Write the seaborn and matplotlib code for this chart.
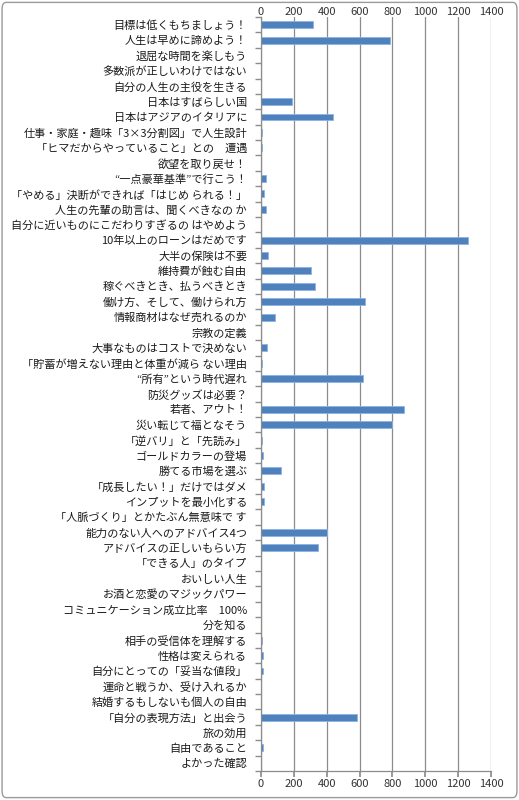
import matplotlib
matplotlib.use("Agg")
import matplotlib.pyplot as plt
import seaborn as sns
import pandas as pd
import numpy as np
from matplotlib.patches import FancyBboxPatch

categories = [
    "目標は低くもちましょう！",
    "人生は早めに諦めよう！",
    "退屈な時間を楽しもう",
    "多数派が正しいわけではない",
    "自分の人生の主役を生きる",
    "日本はすばらしい国",
    "日本はアジアのイタリアに",
    "仕事・家庭・趣味「3×3分割図」で人生設計",
    "「ヒマだからやっていること」との　遭遇",
    "欲望を取り戻せ！",
    "“一点豪華基準”で行こう！",
    "「やめる」決断ができれば「はじめ られる！」",
    "人生の先輩の助言は、聞くべきなの か",
    "自分に近いものにこだわりすぎるの はやめよう",
    "10年以上のローンはだめです",
    "大半の保険は不要",
    "維持費が蝕む自由",
    "稼ぐべきとき、払うべきとき",
    "働け方、そして、働けられ方",
    "情報商材はなぜ売れるのか",
    "宗教の定義",
    "大事なものはコストで決めない",
    "「貯蓄が増えない理由と体重が減ら ない理由",
    "“所有”という時代遅れ",
    "防災グッズは必要？",
    "若者、アウト！",
    "災い転じて福となそう",
    "「逆バリ」と「先読み」",
    "ゴールドカラーの登場",
    "勝てる市場を選ぶ",
    "「成長したい！」だけではダメ",
    "インプットを最小化する",
    "「人脈づくり」とかたぶん無意味で す",
    "能力のない人へのアドバイス4つ",
    "アドバイスの正しいもらい方",
    "「できる人」のタイプ",
    "おいしい人生",
    "お酒と恋愛のマジックパワー",
    "コミュニケーション成立比率　100%",
    "分を知る",
    "相手の受信体を理解する",
    "性格は変えられる",
    "自分にとっての「妥当な値段」",
    "運命と戦うか、受け入れるか",
    "結婚するもしないも個人の自由",
    "「自分の表現方法」と出会う",
    "旅の効用",
    "自由であること",
    "よかった確認",
]
values = [
    316, 785, 0, 0, 0, 189, 440, 5, 5, 0,
    30, 18, 30, 0, 1260, 45, 305, 326, 630, 85,
    0, 35, 8, 620, 0, 873, 796, 8, 12, 124,
    18, 18, 0, 404, 346, 0, 0, 0, 0, 0,
    8, 12, 12, 0, 0, 582, 0, 12, 0,
]
x_ticks = [0, 200, 400, 600, 800, 1000, 1200, 1400]

df = pd.DataFrame({"category": categories, "value": values})

sns.set_theme(style="white")
plt.rcParams["font.family"] = ["Noto Sans CJK JP", "DejaVu Sans"]

fig = plt.figure(figsize=(5.19, 8.0), dpi=100)
ax = fig.add_axes([261 / 519, 1 - 771 / 800, 230 / 519, 754 / 800])

sns.barplot(data=df, x="value", y="category", orient="h", color="#4F81BD",
            width=0.45, edgecolor="#8EB4E3", linewidth=0.6, saturation=1, ax=ax)

ax.set_xlim(0, 1400)
ax.set_ylim(len(categories) - 0.5, -0.5)
ax.set_xticks(x_ticks)
ax.set_xticklabels([str(t) for t in x_ticks])
ax.set_xlabel("")
ax.set_ylabel("")

for t in x_ticks:
    ax.axvline(t, color="#8C8C8C", linewidth=0.9, zorder=0)

for s in ["top", "right"]:
    ax.spines[s].set_visible(False)
for s in ["left", "bottom"]:
    ax.spines[s].set_color("#8C8C8C")
    ax.spines[s].set_linewidth(0.9)

ax.tick_params(axis="x", which="major", top=False, labeltop=False, bottom=True,
               labelbottom=True, direction="out", length=4, color="#8C8C8C",
               labelsize=8, labelcolor="#333333", pad=2)

sec = ax.secondary_xaxis("top")
sec.set_xticks(x_ticks)
sec.set_xticklabels([str(t) for t in x_ticks])
sec.spines["top"].set_visible(False)
sec.tick_params(axis="x", length=0, pad=0, labelsize=8, labelcolor="#333333")

ax.tick_params(axis="y", which="major", length=0, labelsize=8, labelcolor="#1a1a1a", pad=10)
ax.set_yticks(np.arange(-0.5, len(categories), 1.0), minor=True)
ax.tick_params(axis="y", which="minor", left=True, length=4, color="#8C8C8C", direction="out")

border = FancyBboxPatch((0.004, 0.003), 0.992, 0.994, boxstyle="round,pad=0,rounding_size=0.008",
                        transform=fig.transFigure, fill=False, edgecolor="#9A9A9A", linewidth=1.0)
fig.patches.append(border)

fig.savefig("out.png", dpi=100)
